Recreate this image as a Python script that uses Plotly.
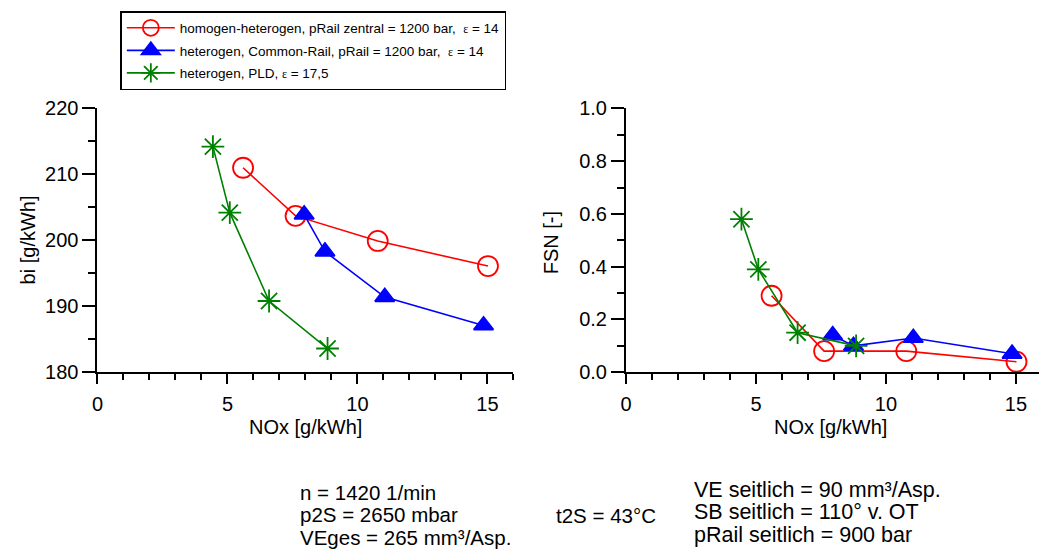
import plotly.graph_objects as go

# NOx emissions [g/kWh] per operating series
nox_homhet = [5.6, 7.62, 10.78, 15.02]
nox_cr = [7.95, 8.75, 11.05, 14.85]
nox_pld = [4.44, 5.09, 6.6, 8.85]

# indicated specific fuel consumption bi [g/kWh]
bi_homhet = [211.0, 203.7, 199.9, 196.1]
bi_cr = [203.9, 198.3, 191.4, 187.1]
bi_pld = [214.2, 204.2, 190.8, 183.6]

# filter smoke number FSN [-]
fsn_homhet = [0.29, 0.08, 0.08, 0.04]
fsn_cr = [0.14, 0.10, 0.13, 0.07]
fsn_pld = [0.58, 0.39, 0.15, 0.10]

# operating conditions printed below the panels
cond_left = ["n = 1420 1/min", "p2S = 2650 mbar", "VEges = 265 mm³/Asp."]
cond_mid = "t2S = 43°C"
cond_right = ["VE seitlich = 90 mm³/Asp.", "SB seitlich = 110° v. OT", "pRail seitlich = 900 bar"]

EPS = "<span style='font-family:Liberation Serif, Times New Roman, serif; font-size:12px'>ε</span>"
names = [
    "homogen-heterogen, pRail zentral = 1200 bar,&nbsp; " + EPS + " = 14",
    "heterogen, Common-Rail, pRail = 1200 bar,&nbsp; " + EPS + " = 14",
    "heterogen, PLD, " + EPS + " = 17,5",
]

FONT = "Liberation Sans, Arial, sans-serif"
W, H = 1039, 554

styles = [
    dict(color="#ff0000", symbol="circle-open", size=20),
    dict(color="#0000ff", symbol="triangle-up", size=17),
    dict(color="#008000", symbol="asterisk-open", size=19),
]

series_left = [(nox_homhet, bi_homhet), (nox_cr, bi_cr), (nox_pld, bi_pld)]
series_right = [(nox_homhet, fsn_homhet), (nox_cr, fsn_cr), (nox_pld, fsn_pld)]

fig = go.Figure()
for panel, series in (("", series_left), ("2", series_right)):
    for i, ((x, y), st) in enumerate(zip(series, styles)):
        fig.add_trace(go.Scatter(
            x=x, y=y, mode="lines+markers", name=names[i],
            line=dict(color=st["color"], width=1.6),
            marker=dict(symbol=st["symbol"], size=st["size"], color=st["color"],
                        line=dict(color=st["color"], width=1.8)),
            xaxis="x" + panel, yaxis="y" + panel, showlegend=(panel == ""),
            legendgroup="g%d" % i,
        ))

def px_x(p):
    return p / W

def px_y(p):
    return 1 - p / H

axis_common = dict(
    showgrid=False, zeroline=False, showline=True, linecolor="black", linewidth=2,
    ticks="outside", tickcolor="black", tickwidth=1.6,
    tickfont=dict(family=FONT, size=20, color="black"),
)
minor_x = dict(dtick=1, ticklen=6, ticks="outside", tickcolor="black", tickwidth=1.6)

ydom = [px_y(376.2), px_y(101.4)]
right_x0 = 623.6

fig.update_layout(
    width=W, height=H,
    margin=dict(l=0, r=0, t=0, b=0),
    paper_bgcolor="white", plot_bgcolor="white",
    font=dict(family=FONT, color="black"),
    xaxis=dict(domain=[px_x(92), px_x(510.4)], range=[0, 16], dtick=5, ticklen=10,
               minor=minor_x, anchor="y", ticklabelstandoff=3, **axis_common),
    yaxis=dict(domain=ydom, range=[180, 220], dtick=10, ticklen=13,
               minor=dict(dtick=5, ticklen=7, ticks="outside", tickcolor="black", tickwidth=1.6),
               anchor="x", **axis_common),
    xaxis2=dict(domain=[px_x(right_x0), 1.0], range=[0, (W - right_x0) / 26.15], dtick=5, ticklen=10,
                minor=minor_x, anchor="y2", ticklabelstandoff=3, **axis_common),
    yaxis2=dict(domain=ydom, range=[0, 1.0], dtick=0.2, tickformat=".1f", ticklen=13,
                minor=dict(dtick=0.1, ticklen=7, ticks="outside", tickcolor="black", tickwidth=1.6),
                anchor="x2", **axis_common),
    legend=dict(
        x=px_x(115), y=1.0, xanchor="left", yanchor="top",
        bordercolor="black", borderwidth=1.5, bgcolor="white",
        font=dict(family=FONT, size=13.5),
        itemwidth=48, tracegroupgap=2,
    ),
)

ann = []
def label(text, x, y, size=20, angle=0, xanchor="center"):
    ann.append(dict(text=text, x=px_x(x), y=px_y(y), xref="paper", yref="paper",
                    showarrow=False, textangle=angle, xanchor=xanchor, yanchor="middle",
                    align="left", font=dict(family=FONT, size=size, color="black")))

def block(lines, glyph_px):
    # tight line pitch: the annotation font sets the pitch, the spans set the glyph size
    return "<br>".join("<span style='font-size:%spx'>%s</span>" % (glyph_px, t) for t in lines)

label("bi [g/kWh]", 22, 238, angle=-90)
label("FSN [-]", 549, 241, angle=-90)
label("NOx [g/kWh]", 301, 433)
label("NOx [g/kWh]", 829, 433)

label(block(cond_left, 20.5), 294, 525, size=17.2, xanchor="left")
label(cond_mid, 551, 525, size=20.5, xanchor="left")
label(block(cond_right, 21.5), 690, 522, size=17.2, xanchor="left")

fig.update_layout(annotations=ann)
fig.write_html("out.html")
